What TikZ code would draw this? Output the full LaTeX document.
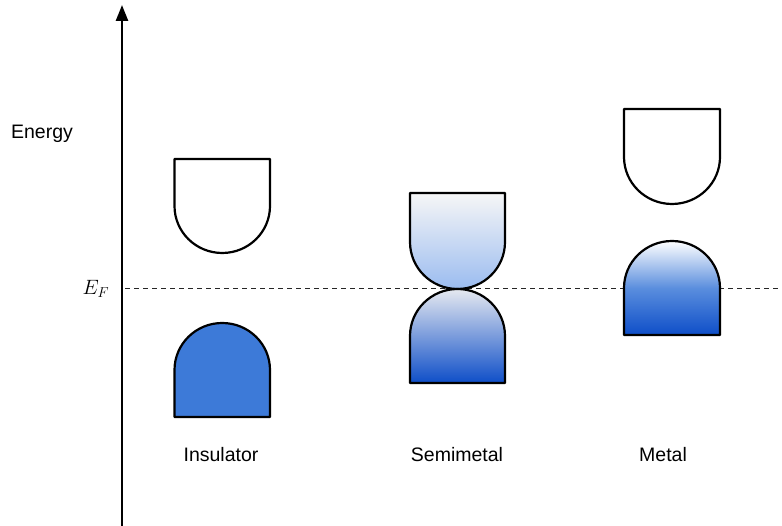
\documentclass[tikz,border=0pt]{standalone}
\usepackage{fontspec}
\setmainfont{Liberation Sans}
\usetikzlibrary{arrows.meta}
\definecolor{insblue}{RGB}{61,122,216}
\definecolor{deepblue}{RGB}{14,78,200}
\definecolor{lightblue}{RGB}{155,188,240}
\definecolor{topgray}{RGB}{246,246,246}
\definecolor{midgray}{RGB}{225,230,240}
\definecolor{paleblue}{RGB}{230,233,240}
\tikzset{
  band/.style={draw=black, line width=2.2pt, line join=round},
  lbl/.style={font=\fontsize{19.5}{23}\selectfont, inner sep=0pt},
  fermi/.style={dashed, dash pattern=on 5pt off 4pt, line width=1pt, draw=black!85},
  axis/.style={line width=2.5pt, -{Triangle[length=16pt,width=12pt]}}
}
\begin{document}
\begin{tikzpicture}[x=1pt,y=1pt]
\useasboundingbox (0,0) rectangle (782,526);
% Fermi level
\coordinate (fl) at (125,237);
\coordinate (fr) at (782,237);
\draw[fermi] (fl) -- (fr);
% axis
\coordinate (ab) at (122,0);
\coordinate (at) at (122,521);
\draw[axis] (ab) -- (at);
% Insulator
\draw[band, fill=white] (174.5,367) -- (174.5,320) arc[start angle=180,end angle=360,x radius=47.75,y radius=47] -- (270,367) -- cycle;
\draw[band, fill=insblue] (174.5,109) -- (174.5,156) arc[start angle=180,end angle=0,x radius=47.75,y radius=47] -- (270,109) -- cycle;
% Semimetal
\draw[band, top color=topgray, middle color=midgray, bottom color=lightblue] (410,333) -- (410,284) arc[start angle=180,end angle=360,x radius=47.5,y radius=47] -- (505,333) -- cycle;
\draw[band, top color=paleblue, middle color=insblue!80!white, bottom color=deepblue] (410,143) -- (410,190) arc[start angle=180,end angle=0,x radius=47.5,y radius=47] -- (505,143) -- cycle;
% Metal
\draw[band, fill=white] (624,417) -- (624,369) arc[start angle=180,end angle=360,x radius=48,y radius=47] -- (720,417) -- cycle;
\draw[band, top color=white, bottom color=deepblue, middle color=insblue!85!white] (624,191) -- (624,238) arc[start angle=180,end angle=0,x radius=48,y radius=47] -- (720,191) -- cycle;
% labels
\node[lbl] (energy) at (42,392) {Energy};
\node[inner sep=0pt, font=\fontsize{22}{26}\selectfont] (ef) at (96,237) {$E_F$};
\node[lbl] (ins) at (221,71) {Insulator};
\node[lbl] (semi) at (457,71) {Semimetal};
\node[lbl] (metal) at (663,71) {Metal};
\end{tikzpicture}
\end{document}
